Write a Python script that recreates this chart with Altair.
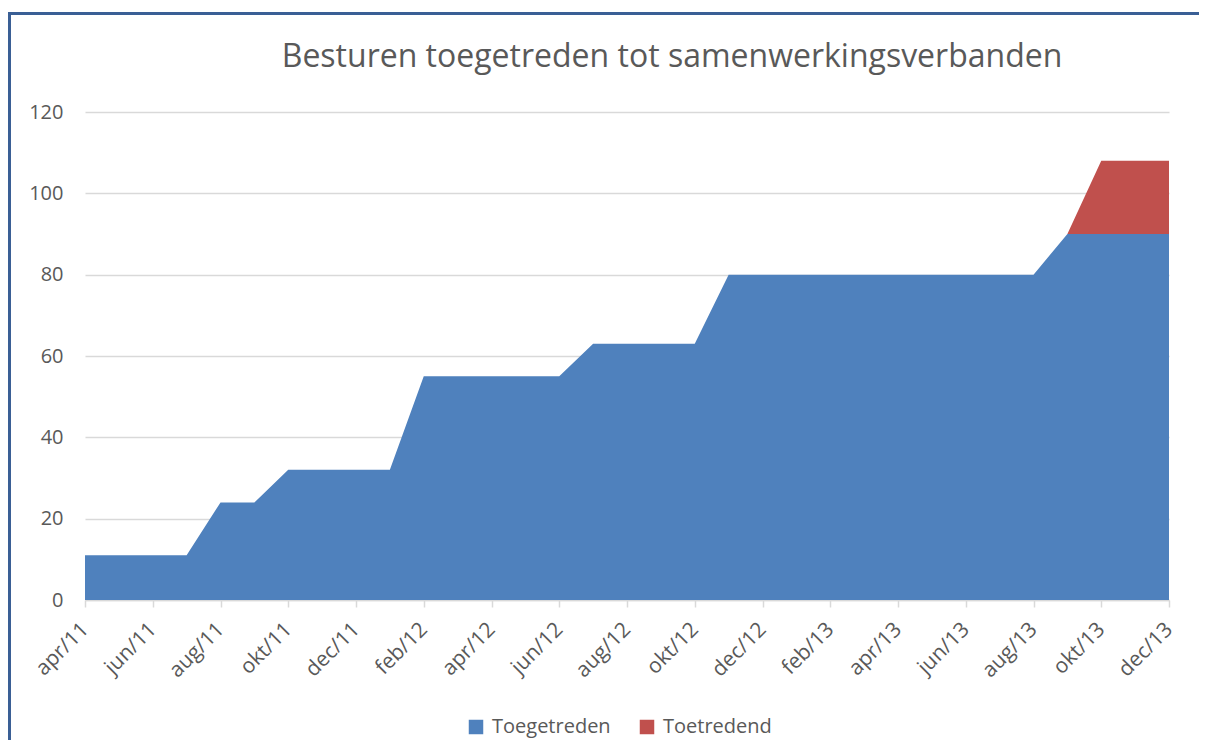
import altair as alt
import pandas as pd

months = ["apr/11", "mei/11", "jun/11", "jul/11", "aug/11", "sep/11", "okt/11", "nov/11", "dec/11",
          "jan/12", "feb/12", "mrt/12", "apr/12", "mei/12", "jun/12", "jul/12", "aug/12", "sep/12",
          "okt/12", "nov/12", "dec/12",
          "jan/13", "feb/13", "mrt/13", "apr/13", "mei/13", "jun/13", "jul/13", "aug/13", "sep/13",
          "okt/13", "nov/13", "dec/13"]
toegetreden = [11, 11, 11, 11, 24, 24, 32, 32, 32,
               32, 55, 55, 55, 55, 55, 63, 63, 63, 63, 80, 80,
               80, 80, 80, 80, 80, 80, 80, 80, 90, 90, 90, 90]
toetredend = [0, 0, 0, 0, 0, 0, 0, 0, 0,
              0, 0, 0, 0, 0, 0, 0, 0, 0, 0, 0, 0,
              0, 0, 0, 0, 0, 0, 0, 0, 0, 18, 18, 18]
series = ["Toegetreden", "Toetredend"]
colors = ["#4F81BD", "#C0504D"]
tick_labels = months[::2]
y_ticks = [0, 20, 40, 60, 80, 100, 120]

rows = []
for i, m in enumerate(months):
    rows.append({"maand": m, "serie": series[0], "waarde": toegetreden[i], "ord": 0})
    rows.append({"maand": m, "serie": series[1], "waarde": toetredend[i], "ord": 1})
df = pd.DataFrame(rows)

FONT = "Open Sans"
GREY = "#595959"

area = alt.Chart(df).mark_area(opacity=1).encode(
    x=alt.X("maand:O", sort=months,
            scale=alt.Scale(type="point", padding=0),
            axis=alt.Axis(values=tick_labels, title=None, labelAngle=-45,
                          labelAlign="right", labelBaseline="middle",
                          labelFontSize=21, labelColor=GREY, labelFont=FONT,
                          domainColor="#D9D9D9", domainWidth=1.5,
                          tickColor="#D9D9D9", tickSize=7, tickWidth=1.5,
                          labelPadding=19, grid=False)),
    y=alt.Y("waarde:Q", stack="zero",
            scale=alt.Scale(domain=[0, 120], nice=False),
            axis=alt.Axis(values=y_ticks, title=None, domain=False, ticks=False,
                          tickSize=0, labelPadding=22, labelFontSize=20,
                          labelColor=GREY, labelFont=FONT,
                          gridColor="#D9D9D9", gridWidth=1.5)),
    color=alt.Color("serie:N", sort=series,
                    scale=alt.Scale(domain=series, range=colors),
                    legend=alt.Legend(title=None, orient="none", legendX=381, legendY=605,
                                      direction="horizontal", symbolType="square",
                                      symbolSize=210, symbolStrokeWidth=0,
                                      labelFontSize=20, labelFont=FONT, labelColor=GREY,
                                      labelOffset=6, columnPadding=26, padding=0)),
    order=alt.Order("ord:Q"),
)

frame_df = pd.DataFrame({"a": [0]})
frame_left = alt.Chart(frame_df).mark_rule(color="#3A5F95", strokeWidth=3).encode(
    x=alt.value(-75.5), y=alt.value(-98.5), y2=alt.value(700))
frame_top = alt.Chart(frame_df).mark_rule(color="#3A5F95", strokeWidth=3).encode(
    x=alt.value(-77), x2=alt.value(1250), y=alt.value(-98.5))

chart = alt.layer(area, frame_left, frame_top).properties(
    width=1084, height=488,
    title=alt.TitleParams("Besturen toegetreden tot samenwerkingsverbanden",
                          font=FONT, fontSize=32, fontWeight="normal", color=GREY,
                          anchor="middle", frame="group", dx=45, dy=100, offset=38),
    autosize=alt.AutoSizeParams(type="none"),
    padding={"left": 77, "top": 104, "right": 30, "bottom": 140},
).configure_view(stroke=None)

chart.save("out.html", embed_options={"renderer": "svg", "actions": False})
